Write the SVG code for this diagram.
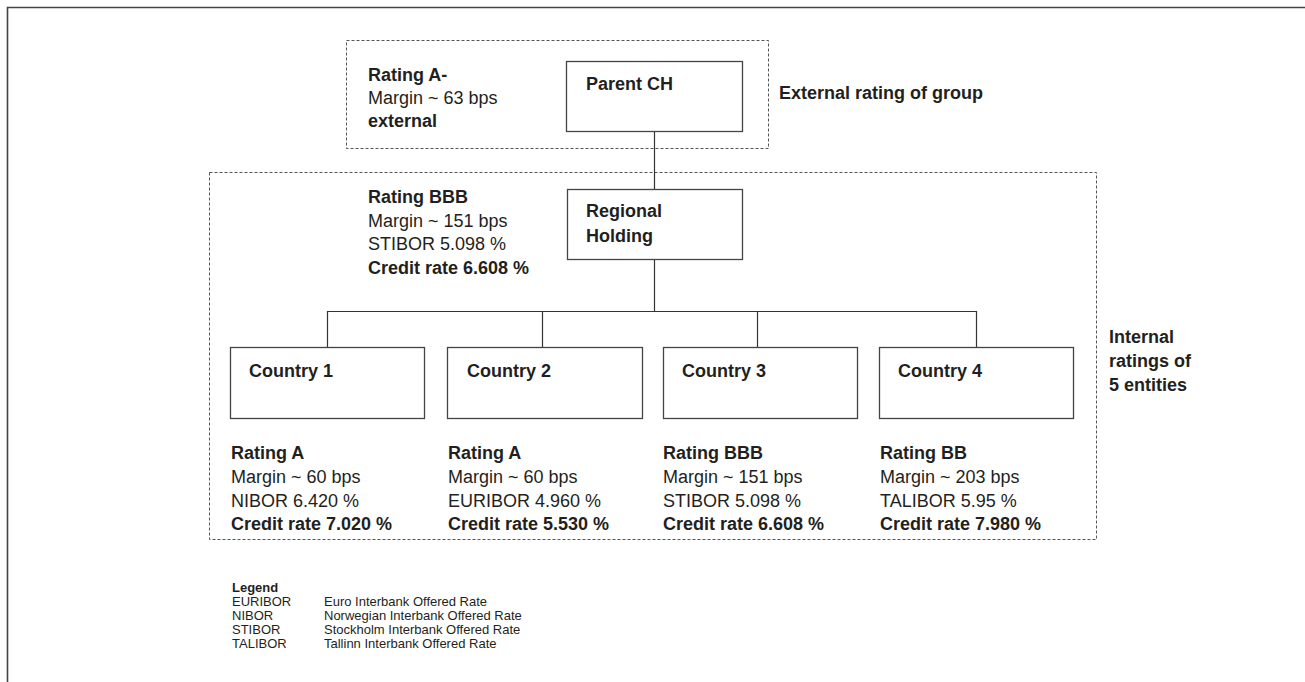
<svg xmlns="http://www.w3.org/2000/svg" width="1305" height="682" viewBox="0 0 1305 682">
<style>
text{font-family:"Liberation Sans",Arial,sans-serif;fill:#231f20;font-size:18px}
.b{font-weight:bold}
.box{fill:#fff;stroke:#444;stroke-width:1.3}
.dash{fill:none;stroke:#555;stroke-width:1;stroke-dasharray:3 2}
.con{fill:none;stroke:#333;stroke-width:1.2}
.lg{font-size:13px}
</style>
<rect width="1305" height="682" fill="#fff"/>
<path d="M7.5 682V7.5H1305" fill="none" stroke="#444" stroke-width="1.6"/>
<g id="groups">
<rect id="external-group" class="dash" x="346.5" y="40.5" width="422" height="108"/>
<rect id="internal-group" class="dash" x="209.5" y="172.5" width="887" height="367"/>
</g>
<g id="connectors">
<path class="con" d="M654.5 131V189"/>
<path class="con" d="M654.5 259V311.5"/>
<path class="con" d="M327.5 347V311.5H976.5V347"/>
<path class="con" d="M542.5 311.5V347"/>
<path class="con" d="M757.5 311.5V347"/>
</g>
<g id="parent">
<rect class="box" x="566.5" y="61.5" width="176" height="70"/>
<text class="b" x="586" y="90">Parent CH</text>
</g>
<g id="parent-info">
<text class="b" x="368" y="81">Rating A-</text>
<text x="368" y="104">Margin ~ 63 bps</text>
<text class="b" x="368" y="127">external</text>
</g>
<g id="external-label"><text class="b" x="779" y="99">External rating of group</text></g>
<g id="regional">
<rect class="box" x="567.5" y="189.5" width="175" height="70"/>
<text class="b" x="586" y="217">Regional</text>
<text class="b" x="586" y="242">Holding</text>
</g>
<g id="regional-info">
<text class="b" x="368" y="203">Rating BBB</text>
<text x="368" y="227">Margin ~ 151 bps</text>
<text x="368" y="250">STIBOR 5.098 %</text>
<text class="b" x="368" y="274">Credit rate 6.608 %</text>
</g>
<g id="country1">
<rect class="box" x="230.5" y="347.5" width="194" height="71"/>
<text class="b" x="249" y="377">Country 1</text>
<text class="b" x="231" y="459">Rating A</text>
<text x="231" y="483">Margin ~ 60 bps</text>
<text x="231" y="507">NIBOR 6.420 %</text>
<text class="b" x="231" y="530">Credit rate 7.020 %</text>
</g>
<g id="country2">
<rect class="box" x="447.5" y="347.5" width="195" height="71"/>
<text class="b" x="467" y="377">Country 2</text>
<text class="b" x="448" y="459">Rating A</text>
<text x="448" y="483">Margin ~ 60 bps</text>
<text x="448" y="507">EURIBOR 4.960 %</text>
<text class="b" x="448" y="530">Credit rate 5.530 %</text>
</g>
<g id="country3">
<rect class="box" x="663.5" y="347.5" width="194" height="71"/>
<text class="b" x="682" y="377">Country 3</text>
<text class="b" x="663" y="459">Rating BBB</text>
<text x="663" y="483">Margin ~ 151 bps</text>
<text x="663" y="507">STIBOR 5.098 %</text>
<text class="b" x="663" y="530">Credit rate 6.608 %</text>
</g>
<g id="country4">
<rect class="box" x="879.5" y="347.5" width="194" height="71"/>
<text class="b" x="898" y="377">Country 4</text>
<text class="b" x="880" y="459">Rating BB</text>
<text x="880" y="483">Margin ~ 203 bps</text>
<text x="880" y="507">TALIBOR 5.95 %</text>
<text class="b" x="880" y="530">Credit rate 7.980 %</text>
</g>
<g id="internal-label">
<text class="b" x="1109" y="343">Internal</text>
<text class="b" x="1109" y="367">ratings of</text>
<text class="b" x="1109" y="391">5 entities</text>
</g>
<g id="legend">
<text class="b lg" x="232" y="592">Legend</text>
<text class="lg" x="232" y="606">EURIBOR</text>
<text class="lg" x="324" y="606">Euro Interbank Offered Rate</text>
<text class="lg" x="232" y="620">NIBOR</text>
<text class="lg" x="324" y="620">Norwegian Interbank Offered Rate</text>
<text class="lg" x="232" y="634">STIBOR</text>
<text class="lg" x="324" y="634">Stockholm Interbank Offered Rate</text>
<text class="lg" x="232" y="648">TALIBOR</text>
<text class="lg" x="324" y="648">Tallinn Interbank Offered Rate</text>
</g>
</svg>
